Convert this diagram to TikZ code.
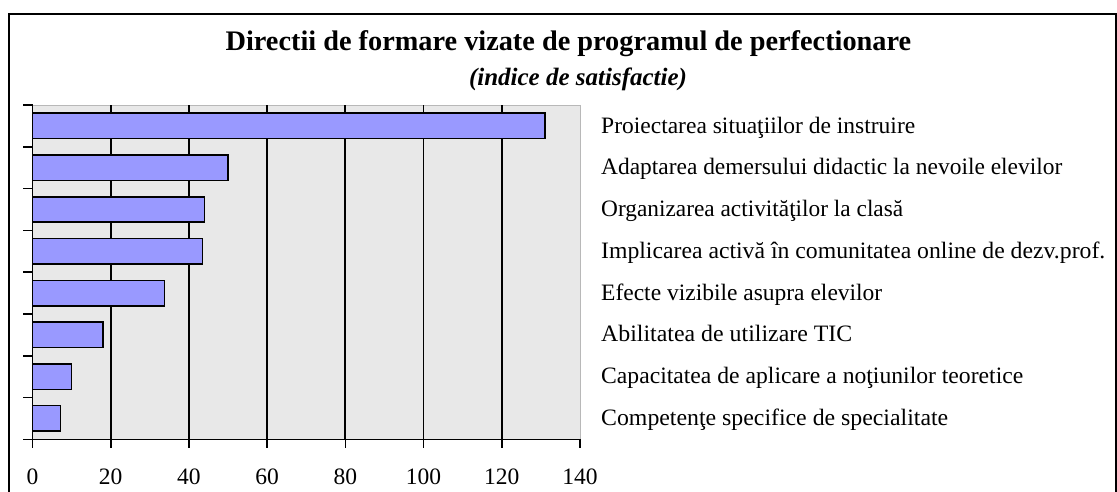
\documentclass[tikz,border=0pt]{standalone}
\usepackage{fontspec}
\setmainfont{Liberation Serif}
\usetikzlibrary{positioning}
\definecolor{ink}{HTML}{000000}
\definecolor{plotbg}{HTML}{E8E8E8}
\definecolor{plotedge}{HTML}{B8B8B8}
\definecolor{barfill}{HTML}{9999FF}
\tikzset{
  every picture/.style={line join=miter},
  chartframe/.style={draw=ink, line width=2pt},
  gridline/.style={draw=ink, line width=1.8pt},
  axisline/.style={draw=ink, line width=1.6pt},
  bar/.style={draw=ink, fill=barfill, line width=1.5pt},
  catlabel/.style={font=\fontsize{23.5}{25}\selectfont, text=ink, anchor=base west, inner sep=0pt},
  ticklabel/.style={font=\fontsize{23.5}{25}\selectfont, text=ink, anchor=base, inner sep=0pt},
  charttitle/.style={font=\fontsize{28.3}{30}\selectfont\bfseries, text=ink, anchor=base, inner sep=0pt},
  chartsub/.style={font=\fontsize{25}{27}\selectfont\bfseries\itshape, text=ink, anchor=base, inner sep=0pt}
}
% value -> x position (px)
\newcommand{\valx}[1]{32.5+#1*3.9107}

\begin{document}
\begin{tikzpicture}[x=1pt, y=-1pt]
  \useasboundingbox (0,0) rectangle (1117,491);

  % outer frame
  \draw[chartframe] (9,14) rectangle (1116,500);

  % title
  \node[charttitle] (title) at (568.4,50) {Directii de formare vizate de programul de perfectionare};
  \node[chartsub] (subtitle) at (578,85) {(indice de satisfactie)};

  % plot area
  \fill[plotbg] (32.5,105) rectangle (580,439.3);
  \draw[plotedge, line width=1pt] (32.5,105) -- (580,105) -- (580,439.3);
  \foreach \v in {20,40,...,120}
    \draw[gridline] ({\valx{\v}},105) -- ({\valx{\v}},439.3);

  % bars
  \foreach \v [count=\i] in {131,50,44,43.5,33.7,18,10,7.2}
    \draw[bar] (32.5,{105+(\i-1)*41.79+8.2}) rectangle ({\valx{\v}},{105+(\i-1)*41.79+33.6});

  % axes and ticks
  \draw[axisline] (32.5,105) -- (32.5,439.3) -- (580,439.3);
  \foreach \k in {0,...,8}
    \draw[axisline] (23,{105+\k*41.79}) -- (32.5,{105+\k*41.79});
  \foreach \v in {0,20,...,140}{
    \draw[axisline] ({\valx{\v}},439.3) -- ({\valx{\v}},448);
    \node[ticklabel] (tick\v) at ({\valx{\v}},484) {\v};
  }

  % category labels (width/text)
  \foreach \w/\t [count=\i] in {
    314/Proiectarea situaţiilor de instruire,
    461/Adaptarea demersului didactic la nevoile elevilor,
    302/Organizarea activităţilor la clasă,
    504/Implicarea activă în comunitatea online de dezv.prof.,
    281/Efecte vizibile asupra elevilor,
    251/Abilitatea de utilizare TIC,
    422/Capacitatea de aplicare a noţiunilor teoretice,
    347/Competenţe specifice de specialitate}
    \node[catlabel] (cat\i) at (601,{133+(\i-1)*41.79}) {\resizebox{\w pt}{\height}{\t}};
\end{tikzpicture}
\end{document}
